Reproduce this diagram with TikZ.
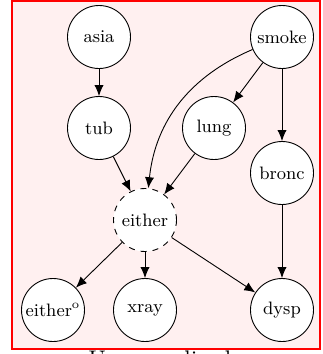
\documentclass[tikz,border=0pt]{standalone}
\usetikzlibrary{arrows.meta}
\begin{document}
\begin{tikzpicture}[x=0.5pt,y=-0.5pt,
  var/.style={circle,draw=black,fill=white,minimum size=31.5pt,inner sep=0pt,font=\small,line width=0.45pt},
  hidden/.style={var,dashed},
  edge/.style={-{Latex[length=5.5pt,width=4.6pt]},line width=0.45pt}]
\useasboundingbox (0,0) rectangle (322,354);
\draw[red,line width=1.2pt,fill=red!6] (12,1) rectangle (320,349);
\node[var] (asia) at (99,37) {asia};
\node[var] (smoke) at (282,37) {smoke};
\node[var] (tub) at (99,128) {tub};
\node[var] (lung) at (214,128) {lung};
\node[var] (bronc) at (282,173) {bronc};
\node[hidden] (either) at (145,220) {either};
\node[var] (eithero) at (53,310) {either$^{\mathrm{o}}$};
\node[var] (xray) at (145,310) {xray};
\node[var] (dysp) at (282,310) {dysp};
\node[anchor=base west,font=\large,inner sep=0pt] (cap) at (88,367) {Unnormalized};
\draw[edge] (asia) -- (tub);
\draw[edge] (smoke) to[out=203,in=84] (either);
\draw[edge] (smoke) -- (lung);
\draw[edge] (smoke) -- (bronc);
\draw[edge] (tub) -- (either);
\draw[edge] (lung) -- (either);
\draw[edge] (bronc) -- (dysp);
\draw[edge] (either) -- (eithero);
\draw[edge] (either) -- (xray);
\draw[edge] (either) -- (dysp);
\end{tikzpicture}
\end{document}
